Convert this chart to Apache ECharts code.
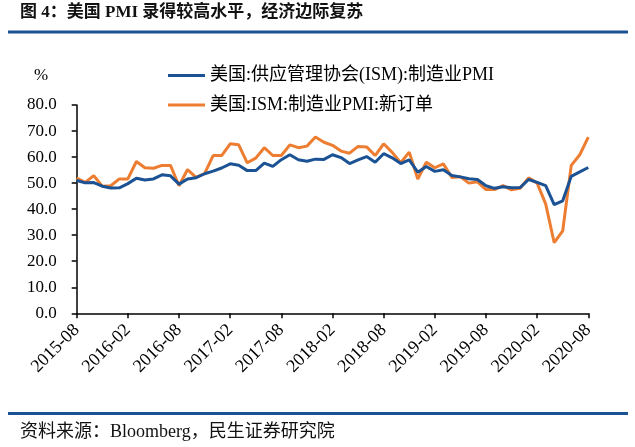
<!DOCTYPE html>
<html>
<head>
<meta charset="utf-8">
<style>
  html, body { margin: 0; padding: 0; background: #fff; }
  #chart { width: 635px; height: 447px; }
</style>
</head>
<body>
<div id="chart"></div>
<script src="https://cdn.jsdelivr.net/npm/echarts@6/dist/echarts.min.js"></script>
<script>
// 月份 2015-08 ~ 2020-08
var months = [];
for (var y = 2015; y <= 2020; y++) {
  for (var m = 1; m <= 12; m++) {
    if ((y === 2015 && m < 8) || (y === 2020 && m > 8)) continue;
    months.push(y + '-' + (m < 10 ? '0' + m : m));
  }
}

var pmiName = '美国:供应管理协会(ISM):制造业PMI';
var ordersName = '美国:ISM:制造业PMI:新订单';

var pmi = [
  51.0, 50.1, 50.2, 48.8, 48.1,
  48.2, 49.8, 51.9, 51.2, 51.6, 53.2, 52.8, 49.6, 51.6, 52.1, 53.6, 54.6,
  55.8, 57.4, 56.9, 54.8, 54.8, 57.7, 56.4, 59.0, 60.9, 59.0, 58.4, 59.2,
  59.1, 60.9, 59.8, 57.5, 58.9, 60.2, 58.0, 61.3, 59.7, 57.5, 58.9, 54.2,
  56.4, 54.5, 55.1, 52.9, 52.4, 51.7, 51.4, 49.0, 48.0, 48.6, 48.2, 48.3,
  51.4, 50.3, 49.0, 41.7, 43.2, 52.6, 54.3, 56.0
];

var orders = [
  51.9, 50.3, 52.9, 48.8, 49.0,
  51.6, 51.6, 58.3, 55.9, 55.7, 56.8, 56.8, 49.0, 55.2, 52.2, 53.6, 60.6,
  60.6, 65.1, 64.7, 57.8, 59.6, 63.6, 60.6, 60.6, 64.7, 63.6, 64.2, 67.7,
  65.7, 64.5, 62.3, 61.5, 64.1, 63.9, 60.6, 65.1, 61.8, 57.8, 61.9, 51.6,
  58.0, 55.9, 57.4, 52.2, 52.4, 50.0, 50.5, 47.5, 47.5, 49.0, 47.4, 48.0,
  52.0, 50.0, 42.0, 27.1, 31.7, 56.8, 60.9, 67.7
];

var colorBlue = '#1a5294';
var colorOrange = '#ed7d31';
var serif = '"Liberation Serif", "Noto Sans CJK SC", serif';

var myChart = echarts.init(document.getElementById('chart'));

var option = {
  animation: false,
  backgroundColor: '#fff',
  textStyle: { fontFamily: serif, color: '#000' },
  graphic: [
    {
      type: 'text', left: 20, top: 4,
      style: { text: '图 4：美国 PMI 录得较高水平，经济边际复苏', font: 'bold 17px ' + serif, fill: '#111' }
    },
    {
      type: 'rect', shape: { x: 8, y: 30.5, width: 620, height: 3 },
      style: { fill: colorBlue }
    },
    {
      type: 'text', left: 34, top: 67,
      style: { text: '%', font: '17px ' + serif, fill: '#000' }
    },
    {
      type: 'rect', shape: { x: 8, y: 412, width: 620, height: 3 },
      style: { fill: colorBlue }
    },
    {
      type: 'text', left: 20, top: 423,
      style: { text: '资料来源：Bloomberg，民生证券研究院', font: '18px ' + serif, fill: '#111' }
    }
  ],
  legend: {
    orient: 'vertical',
    left: 163,
    top: 61,
    itemWidth: 37,
    itemHeight: 3,
    itemGap: 10.5,
    icon: 'rect',
    textStyle: { fontFamily: serif, fontSize: 18, lineHeight: 19, color: '#000' },
    data: [pmiName, ordersName]
  },
  grid: { left: 76.7, right: 46.7, top: 105, bottom: 133.7, containLabel: false },
  xAxis: {
    type: 'category',
    boundaryGap: false,
    data: months,
    axisLine: { lineStyle: { color: '#000', width: 1.5 } },
    axisTick: { show: true, interval: 5, length: 5, lineStyle: { color: '#000', width: 1.5 } },
    axisLabel: { interval: 5, rotate: 45, margin: 14, fontSize: 18, fontFamily: serif, color: '#000' },
    splitLine: { show: false }
  },
  yAxis: {
    type: 'value',
    min: 0,
    max: 80,
    interval: 10,
    axisLine: { show: true, lineStyle: { color: '#000', width: 1.5 } },
    axisTick: { show: true, length: 5, lineStyle: { color: '#000', width: 1.5 } },
    axisLabel: {
      margin: 20, fontSize: 17, fontFamily: serif, color: '#000',
      formatter: function (v) { return v.toFixed(1); }
    },
    splitLine: { show: false }
  },
  series: [
    {
      name: pmiName,
      type: 'line',
      data: pmi,
      symbol: 'none',
      z: 3,
      lineStyle: { color: colorBlue, width: 3 },
      itemStyle: { color: colorBlue }
    },
    {
      name: ordersName,
      type: 'line',
      data: orders,
      symbol: 'none',
      z: 2,
      lineStyle: { color: colorOrange, width: 3 },
      itemStyle: { color: colorOrange }
    }
  ]
};
myChart.setOption(option);
</script>
</body>
</html>
